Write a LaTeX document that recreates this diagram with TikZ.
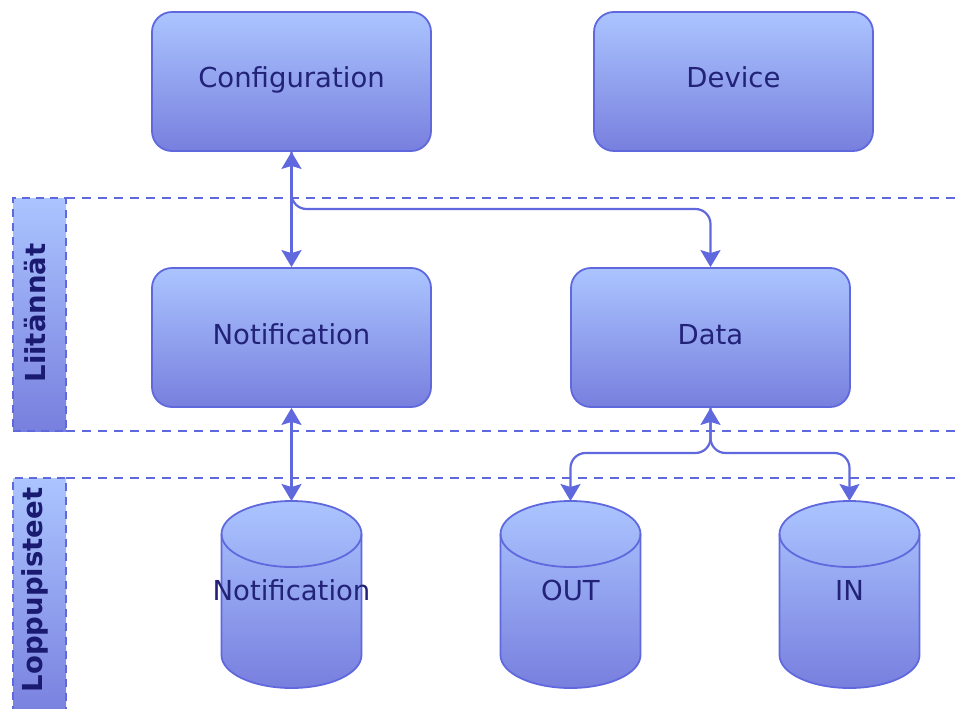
\documentclass[tikz,border=0pt]{standalone}
\usepackage{fontspec}
\setmainfont{DejaVu Sans}
\usetikzlibrary{arrows.meta,calc}

\definecolor{fillTop}{RGB}{171,197,255}
\definecolor{fillBot}{RGB}{120,127,222}
\definecolor{edge}{RGB}{96,104,222}
\definecolor{ink}{RGB}{34,34,120}
\definecolor{laneInk}{RGB}{26,26,112}

\tikzset{
  block/.style={draw=edge, line width=1.8pt, rounded corners=20pt,
    top color=fillTop, bottom color=fillBot,
    minimum width=279pt, minimum height=139pt, inner sep=0pt,
    text height=20pt, text depth=7pt,
    text=ink, font=\fontsize{27.5}{32}\selectfont},
  lanebox/.style={draw=edge, line width=1.8pt, dash pattern=on 8pt off 6pt,
    top color=fillTop, bottom color=fillBot, inner sep=0pt},
  lanetext/.style={rotate=90, text=laneInk, font=\fontsize{27.5}{32}\selectfont\bfseries},
  laneline/.style={draw=edge, line width=1.8pt, dash pattern=on 9pt off 7pt},
  cylshape/.style={draw=edge, line width=1.8pt, top color=fillTop, bottom color=fillBot},
  cyltext/.style={text=ink, font=\fontsize{27.5}{32}\selectfont, inner sep=0pt,
    text height=20pt, text depth=7pt},
  conn/.style={draw=edge, line width=2.2pt, rounded corners=15pt},
  arr/.tip={Stealth[length=17pt,width=20pt,inset=3pt]}
}

% database cylinder: name, centre x, label
\newcommand\dbcyl[3]{%
  \shadedraw[cylshape] (#2-70,534) -- (#2-70,655)
    arc[start angle=180,end angle=360,x radius=70pt,y radius=33pt]
    -- (#2+70,534)
    arc[start angle=0,end angle=180,x radius=70pt,y radius=33pt] -- cycle;
  \draw[draw=edge, line width=1.8pt] (#2-70,534)
    arc[start angle=180,end angle=360,x radius=70pt,y radius=33pt];
  \node[cyltext] (#1) at (#2,593.5) {#3};
  \coordinate (#1-top) at (#2,501);
}

\begin{document}
\begin{tikzpicture}[x=1pt,y=-1pt]
\useasboundingbox (0,0) rectangle (961,709);

% lane borders
\draw[laneline] (66,198) -- (975,198);
\draw[laneline] (66,431) -- (975,431);
\draw[laneline] (66,478) -- (975,478);

% lane headers
\node[lanebox, minimum width=53pt, minimum height=233pt] (laneA) at (39.5,314.5) {};
\node[lanetext] (laneAtext) at (35,313) {Liitännät};
\node[lanebox, minimum width=53pt, minimum height=240pt] (laneB) at (39.5,598) {};
\node[lanetext] (laneBtext) at (35,590) {Loppupisteet};

% blocks
\node[block] (cfg)  at (291.5,81.5)  {Configuration};
\node[block] (dev)  at (733.5,81.5)  {Device};
\node[block] (ntf)  at (291.5,337.5) {Notification};
\node[block] (data) at (710.5,337.5) {Data};

% endpoints
\dbcyl{ntfdb}{291.5}{Notification}
\dbcyl{outdb}{570.5}{OUT}
\dbcyl{indb}{849.5}{IN}

% routing levels
\coordinate (busA) at (0,209);
\coordinate (busB) at (0,453);

% connectors
\draw[conn, arr-arr] (cfg.south) -- (ntf.north);
\draw[conn, -arr] (cfg.south) -- (cfg.south |- busA) -| (data.north);
\draw[conn, arr-arr] (ntf.south) -- (ntfdb-top);
\draw[conn, arr-arr] (data.south) -- (data.south |- busB) -| (outdb-top);
\draw[conn, -arr] (data.south) -- (data.south |- busB) -| (indb-top);
\end{tikzpicture}
\end{document}
